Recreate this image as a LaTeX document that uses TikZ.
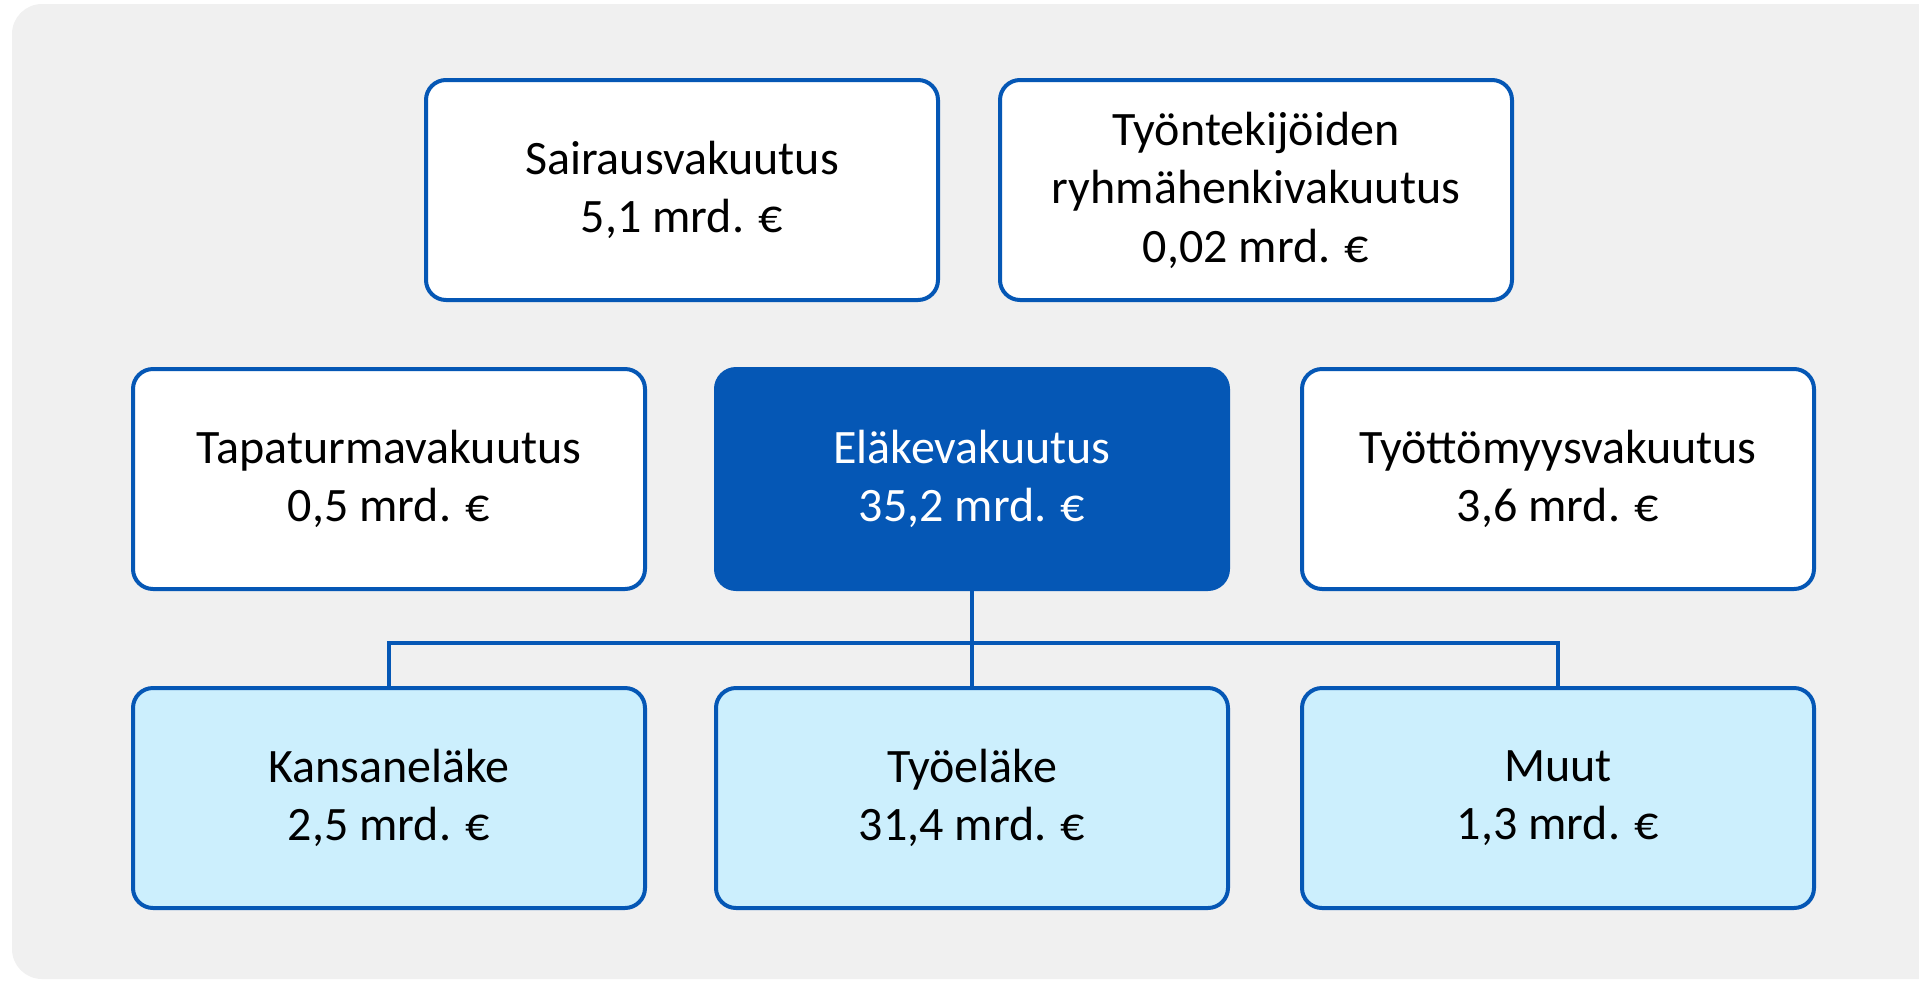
\documentclass[tikz,border=0pt]{standalone}
\usepackage{fontspec}
\setmainfont{Carlito}
\usepackage{tikz}
\usetikzlibrary{positioning}
\usepackage{xcolor}

\definecolor{kelablue}{RGB}{5,87,181}
\definecolor{kelalight}{RGB}{204,239,253}
\definecolor{kelabg}{RGB}{240,240,240}

\tikzset{
  box/.style={draw=kelablue, line width=2pt, rounded corners=10pt, fill=white,
    minimum width=256pt, minimum height=110pt, align=center,
    font=\fontsize{24}{29.3}\selectfont},
  mainbox/.style={box, fill=kelablue, text=white},
  subbox/.style={box, fill=kelalight},
  branch/.style={draw=kelablue, line width=1.75pt}
}

\begin{document}
\begin{tikzpicture}[x=0.5pt, y=-0.5pt]
			\useasboundingbox (0,0) rectangle (1919,981);
			\clip (0,0) rectangle (1919,981);
			\fill[kelabg, rounded corners=15pt] (12,4) rectangle (1960,979);

			% top row
			\node[box] (sairaus) at (682,190) {Sairausvakuutus\\5,1 mrd. €};
			\node[box] (ryhma) at (1256,190) {Työntekijöiden\\ryhmähenkivakuutus\\0,02 mrd. €};

			% middle row
			\node[box] (tapaturma) at (389,479) {Tapaturmavakuutus\\0,5 mrd. €};
			\node[mainbox] (elake) at (972,479) {Eläkevakuutus\\35,2 mrd. €};
			\node[box] (tyottomyys) at (1558,479) {Työttömyysvakuutus\\3,6 mrd. €};

			% bottom row
			\node[subbox] (kansa) at (389,798) {Kansaneläke\\2,5 mrd. €};
			\node[subbox] (tyoelake) at (972,798) {Työeläke\\31,4 mrd. €};
			\node[subbox] (muut) at (1558,798) {Muut\\1,3 mrd. €};

			\coordinate (jako) at (972,643);
			\draw[branch] (elake.south) -- (tyoelake.north);
			\draw[branch] (kansa.north) |- (jako) -| (muut.north);
		\end{tikzpicture}
\end{document}
